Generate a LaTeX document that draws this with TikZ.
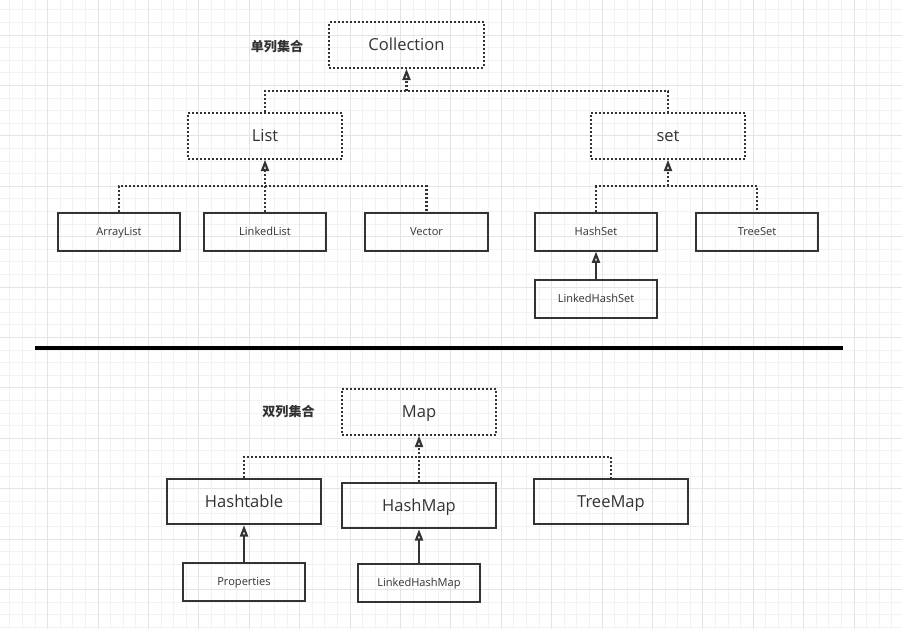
\documentclass[tikz,border=0pt]{standalone}
\usepackage{fontspec}
\setmainfont{Open Sans}
\newfontfamily\cjk{Noto Sans CJK SC}
\usetikzlibrary{arrows.meta}
\definecolor{gridminor}{HTML}{F2F2F2}
\definecolor{gridmajor}{HTML}{E4E4E4}
\definecolor{ink}{HTML}{333333}

\begin{document}
\begin{tikzpicture}[x=0.75pt, y=-0.75pt,
    minorline/.style={draw=gridminor, line width=0.75pt},
    majorline/.style={draw=gridmajor, line width=0.75pt},
    iface/.style={draw=ink, line width=1.6pt, dash pattern=on 1.5pt off 1.5pt, minimum width=116pt, minimum height=34pt, inner sep=0pt, text height=11pt, text depth=2.1pt, font=\fontsize{12.4}{14}\selectfont, text=ink},
    bigcls/.style={draw=ink, line width=1.5pt, minimum width=116pt, minimum height=34pt, inner sep=0pt, text height=11pt, text depth=2.1pt, font=\fontsize{12.4}{14}\selectfont, text=ink},
    cls/.style={draw=ink, line width=1.5pt, minimum width=92pt, minimum height=28.5pt, inner sep=0pt, text height=7.5pt, text depth=1.6pt, font=\fontsize{8.3}{10}\selectfont, text=ink},
    grp/.style={font=\cjk\bfseries\fontsize{9.8}{12}\selectfont, text=ink},
    impl/.style={draw=ink, line width=1.6pt, dash pattern=on 1.5pt off 1.5pt},
    ext/.style={draw=ink, line width=1.6pt},
    tip/.style={-{Triangle[open, length=8.5pt, width=6pt]}}
]
\useasboundingbox[fill=white] (0,0) rectangle (902,629);
\foreach \i in {0,...,72} \draw[minorline] ({-2.8+12.6*\i},0) -- ({-2.8+12.6*\i},629);
\foreach \i in {0,...,51} \draw[minorline] (0,{-15.4+12.6*\i}) -- (902,{-15.4+12.6*\i});
\foreach \i in {0,...,18} \draw[majorline] ({-2.8+50.4*\i},0) -- ({-2.8+50.4*\i},629);
\foreach \i in {0,...,13} \draw[majorline] (0,{-15.4+50.4*\i}) -- (902,{-15.4+50.4*\i});

\node[grp] (single) at (277,47) {单列集合};
\node[iface] (coll) at (406.5,45) {Collection};
\node[iface] (list) at (265,136) {List};
\node[iface] (set) at (668,136) {set};

\node[cls] (arraylist) at (119,232) {ArrayList};
\node[cls] (linkedlist) at (265,231.5) {LinkedList};
\node[cls] (vector) at (426.5,232) {Vector};
\node[cls] (hashset) at (596,231.5) {HashSet};
\node[cls] (treeset) at (757,231.5) {TreeSet};
\node[cls] (linkedhashset) at (596,298.5) {LinkedHashSet};

\coordinate (sepL) at (35,347.5);
\coordinate (sepR) at (843,347.5);
\draw[line width=3pt, black] (sepL) -- (sepR);

\node[grp] (double) at (288.5,412) {双列集合};
\node[iface] (map) at (419,412) {Map};
\node[bigcls] (hashtable) at (244,501.5) {Hashtable};
\node[bigcls] (hashmap) at (419,505.5) {HashMap};
\node[bigcls] (treemap) at (611,501.5) {TreeMap};
\node[cls] (properties) at (244,581.5) {Properties};
\node[cls] (linkedhashmap) at (419,582.5) {LinkedHashMap};

\coordinate (collbus) at (406.5,91);
\coordinate (listbus) at (265,186);
\coordinate (setbus) at (668,186);
\coordinate (mapbus) at (419,457);

\draw[impl] (list.north) |- (collbus) -| (set.north);
\draw[impl, tip] (collbus) -- (coll.south);
\draw[impl] (arraylist.north) |- (listbus) -| (vector.north);
\draw[impl, tip] (linkedlist.north) -- (list.south);
\draw[impl] (hashset.north) |- (setbus) -| (treeset.north);
\draw[impl, tip] (setbus) -- (set.south);
\draw[ext, tip] (linkedhashset.north) -- (hashset.south);

\draw[impl] (hashtable.north) |- (mapbus) -| (treemap.north);
\draw[impl, tip] (hashmap.north) -- (map.south);
\draw[ext, tip] (properties.north) -- (hashtable.south);
\draw[ext, tip] (linkedhashmap.north) -- (hashmap.south);
\end{tikzpicture}
\end{document}
